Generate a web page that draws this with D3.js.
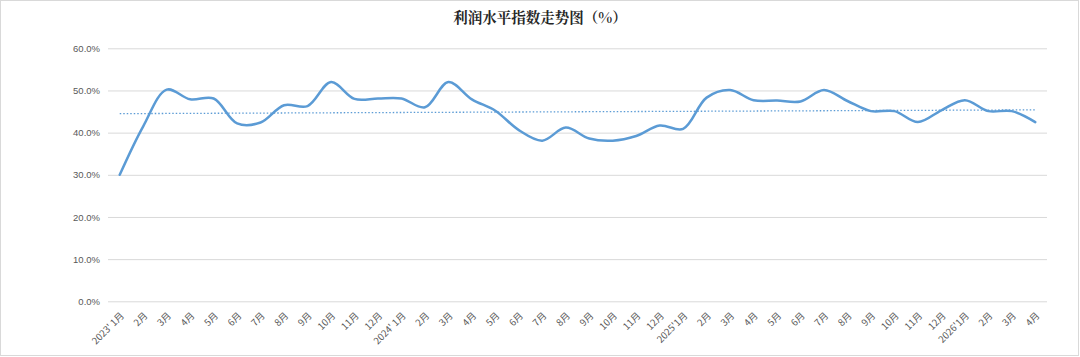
<!DOCTYPE html>
<html><head><meta charset="utf-8">
<script src="https://cdn.jsdelivr.net/npm/d3@7"></script>
<style>
html,body{margin:0;padding:0;background:#fff;}
svg{display:block;}
</style></head>
<body><svg id="c" width="1080" height="357"></svg>
<script>
const title = "利润水平指数走势图（%）";
const categories = [
 "2023' 1月","2月","3月","4月","5月","6月","7月","8月","9月","10月","11月","12月",
 "2024' 1月","2月","3月","4月","5月","6月","7月","8月","9月","10月","11月","12月",
 "2025'1月","2月","3月","4月","5月","6月","7月","8月","9月","10月","11月","12月",
 "2026'1月","2月","3月","4月"];
const values = [
 30.0,41.5,50.2,47.9,48.1,42.2,42.4,46.5,46.3,52.0,48.0,48.1,
 48.1,46.0,52.0,47.9,45.2,40.6,38.1,41.2,38.6,38.1,39.2,41.7,
 40.9,48.3,50.1,47.7,47.6,47.4,50.1,47.5,45.1,45.1,42.5,45.3,
 47.7,45.1,45.1,42.5];
const trendValues = [44.5, 45.4];
const yTicks = [0,10,20,30,40,50,60];

const svg = d3.select("#c");
const W = 1080, H = 357;
const m = {left:108, right:33, top:48.3, bottom:55.7};

svg.append("rect").attr("x",0.5).attr("y",0.5).attr("width",W-2).attr("height",H-2)
  .attr("fill","#fff").attr("stroke","#d9d9d9").attr("stroke-width",1);

svg.append("text").attr("x",540).attr("y",23).attr("text-anchor","middle")
  .attr("font-family","'Noto Serif CJK SC','Noto Sans CJK SC'").attr("font-weight","bold")
  .attr("font-size",14.5).attr("fill","#262626").text(title);

const x = d3.scaleBand().domain(categories.map((c,i)=>i)).range([m.left, W-m.right]);
const y = d3.scaleLinear().domain([0,60]).range([H-m.bottom, m.top]);
const cx = i => x(i) + x.bandwidth()/2;

const yAxis = d3.axisLeft(y).tickValues(yTicks).tickSize(-(W-m.right-m.left))
  .tickFormat(d => d.toFixed(1)+"%");
const gy = svg.append("g").attr("transform",`translate(${m.left},0)`).call(yAxis);
gy.select(".domain").remove();
gy.selectAll(".tick line").attr("stroke","#d9d9d9").attr("stroke-width",1);
gy.selectAll(".tick text").attr("x",-8).attr("fill","#595959")
  .attr("font-family","'Liberation Sans', Arial, sans-serif").attr("font-size",9.5);

const xAxis = d3.axisBottom(x).tickSize(0).tickFormat(i => categories[i]);
const gx = svg.append("g").attr("transform",`translate(0,${H-m.bottom})`).call(xAxis);
gx.select(".domain").remove();
gx.selectAll(".tick text")
  .attr("fill","#595959").attr("font-family","'Noto Sans CJK SC', sans-serif").attr("font-size",9.5)
  .attr("text-anchor","end").attr("dy",0).attr("y",0)
  .attr("transform","translate(5,15) rotate(-45)");

const line = d3.line().x((d,i)=>cx(i)).y(d=>y(d)).curve(d3.curveCatmullRom.alpha(0.5));
svg.append("path").datum(values).attr("d",line).attr("fill","none")
  .attr("stroke","#5b9bd5").attr("stroke-width",2.5).attr("stroke-linejoin","round").attr("stroke-linecap","round");

svg.append("line").attr("x1",cx(0)).attr("x2",cx(values.length-1))
  .attr("y1",y(trendValues[0])).attr("y2",y(trendValues[1]))
  .attr("stroke","#5b9bd5").attr("stroke-width",1.3).attr("stroke-dasharray","1.5,2");
</script></body></html>
